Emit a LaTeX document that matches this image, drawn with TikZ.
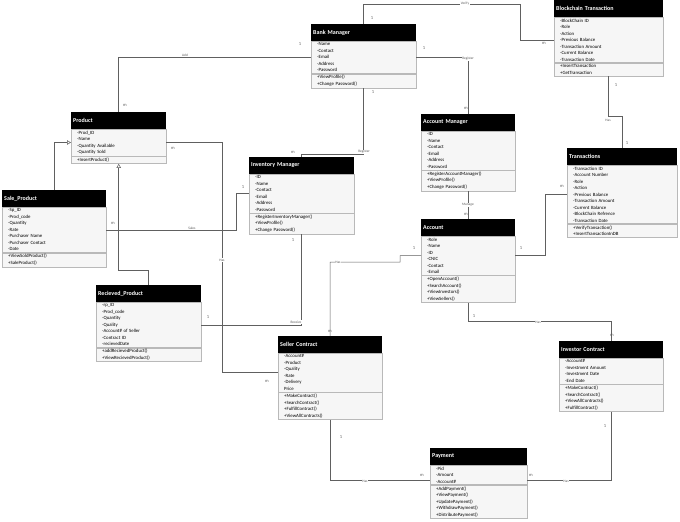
\documentclass[tikz,border=0pt]{standalone}
\usepackage{fontspec}
\setmainfont{Carlito}
\usetikzlibrary{arrows, arrows.meta, positioning}

\tikzset{
  head/.style={fill=black, text=white, font=\fontsize{6}{7}\selectfont\bfseries, anchor=north west, minimum height=16.5pt, inner xsep=2pt, inner ysep=0pt, align=left},
  attr/.style={draw=gray!55, fill=gray!7, anchor=north west, font=\fontsize{4.8}{6.5}\selectfont, inner xsep=6pt, inner ysep=1.6pt, align=left},
  link/.style={draw=gray!75!black, line width=0.5pt},
  mult/.style={font=\fontsize{4.5}{5}\selectfont, text=gray!70!black, inner sep=0pt},
  rel/.style={font=\fontsize{3.5}{4}\selectfont, fill=white, inner sep=0.6pt, text=gray!70!black},
  isa/.style={-{Triangle[open, length=4pt, width=4.5pt]}},
}

\begin{document}
\begin{tikzpicture}[x=1pt, y=-1pt]
\useasboundingbox (0,0) rectangle (680,522);

% classes
\node[head, text width=101pt] (bm) at (311,24) {Bank Manager};
\node[attr, text width=93pt] (bma) at (bm.south west) {-Name\\-Contact\\-Email\\-Address\\-Password};
\node[attr, text width=93pt] (bmm) at (bma.south west) {+ViewProfile()\\+Change Password()};

\node[head, text width=105pt] (bt) at (554,0) {Blockchain Transaction};
\node[attr, text width=97pt] (bta) at (bt.south west) {-BlockChain ID\\-Role\\-Action\\-Previous Balance\\-Transaction Amount\\-Current Balance\\-Transaction Date};
\node[attr, text width=97pt] (btm) at (bta.south west) {+InsertTransaction\\+GetTransaction};

\node[head, text width=91pt] (pr) at (71,112) {Product};
\node[attr, text width=83pt] (pra) at (pr.south west) {-Prod\_ID\\-Name\\-Quantity Available\\-Quantity Sold};
\node[attr, text width=83pt] (prm) at (pra.south west) {+InsertProduct()};

\node[head, text width=100pt] (sp) at (2,190) {Sale\_Product};
\node[attr, text width=92pt] (spa) at (sp.south west) {-Sp\_ID\\-Prod\_code\\-Quantity\\-Rate\\-Purchaser Name\\-Purchaser Contact\\-Date};
\node[attr, text width=92pt] (spm) at (spa.south west) {+ViewSoldProduct()\\+SaleProduct()};

\node[head, text width=101pt] (im) at (249,157) {Inventory Manager};
\node[attr, text width=93pt] (ima) at (im.south west) {-ID\\-Name\\-Contact\\-Email\\-Address\\-Password};
\node[attr, text width=93pt] (imm) at (ima.south west) {+RegisterInventoryManager()\\+ViewProfile()\\+Change Password()};

\node[head, text width=90pt] (am) at (421,114) {Account Manager};
\node[attr, text width=82pt] (ama) at (am.south west) {-ID\\-Name\\-Contact\\-Email\\-Address\\-Password};
\node[attr, text width=82pt] (amm) at (ama.south west) {+RegisterAccountManager()\\+ViewProfile()\\+Change Password()};

\node[head, text width=106pt] (tr) at (567,148) {Transactions};
\node[attr, text width=98pt] (tra) at (tr.south west) {-Transaction ID\\-Account Number\\-Role\\-Action\\-Previous Balance\\-Transaction Amount\\-Current Balance\\-BlockChain Refrence\\-Transaction Date};
\node[attr, text width=98pt] (trm) at (tra.south west) {+VerifyTransaction()\\+InsertTransactionInDB};

\node[head, text width=90pt] (ac) at (421,219) {Account};
\node[attr, text width=82pt] (aca) at (ac.south west) {-Role\\-Name\\-ID\\-CNIC\\-Contact\\-Email};
\node[attr, text width=82pt] (acm) at (aca.south west) {+OpenAccount()\\+SearchAccount()\\+ViewInvestors()\\+ViewSellers()};

\node[head, text width=101pt] (rp) at (96,285) {Recieved\_Product};
\node[attr, text width=93pt] (rpa) at (rp.south west) {-rp\_ID\\-Prod\_code\\-Quantity\\-Quality\\-Account\# of Seller\\-Contract ID\\-recievedDate};
\node[attr, text width=93pt] (rpm) at (rpa.south west) {+addRecievedProduct()\\+ViewRecievedProduct()};

\node[head, text width=100pt] (sc) at (278,336) {Seller Contract};
\node[attr, text width=92pt] (sca) at (sc.south west) {-Account\#\\-Product\\-Quality\\-Rate\\-Delivery\\Price};
\node[attr, text width=92pt] (scm) at (sca.south west) {+MakeContract()\\+SearchContract()\\+FulfillContract()\\+ViewAllContracts()};

\node[head, text width=100pt] (ic) at (559,341) {Investor Contract};
\node[attr, text width=92pt] (ica) at (ic.south west) {-Account\#\\-Investment Amount\\-Investment Date\\-End Date};
\node[attr, text width=92pt] (icm) at (ica.south west) {+MakeContract()\\+SearchContract()\\+ViewAllContracts()\\+FulfillContract()};

\node[head, text width=93pt] (pa) at (430,448) {Payment};
\node[attr, text width=85pt] (paa) at (pa.south west) {-Pid\\-Amount\\-Account\#};
\node[attr, text width=85pt] (pam) at (paa.south west) {+AddPayment()\\+ViewPayment()\\+UpdatePayment()\\+WithdrawPayment()\\+DistributePayment()};

% connectors
\draw[link] (bm.north) |- (520,4) |- (bta.west);
\draw[link] (bma.west) -| (pr.north);
\draw[link] (bmm.south) -- ++(0,66) -| (im.north);
\draw[link] (bma.east) -| (am.north);
\draw[link] (btm.south) -- ++(0,40) -| (tr.north);
\draw[link, isa] (sp.north) |- (pra.west);
\draw[link, isa] (rp.north) -- ++(0,-15) -| (prm.south);
\draw[link] (pra.east) -- ++(56,0) |- (sca.west);
\draw[link] (spa.east) -- ++(130,0) |- (ima.west);
\draw[link] (imm.south) |- (rpa.east);
\draw[link] (aca.west) -- ++(-21,0) |- (330,262) -- (sc.north);
\draw[link] (aca.east) -- ++(30,0) |- (tra.west);
\draw[link] (amm.south) -- (ac.north);
\draw[link] (acm.south) -- ++(0,19) -| (ic.north);
\draw[link] (scm.south) |- ([yshift=5pt]paa.south west);
\draw[link] (icm.south) |- ([yshift=5pt]paa.south east);

% relation names
\node[rel] (lverify) at (465,4) {Verify};
\node[rel] (ladd) at (185,55) {Add};
\node[rel] (lreg1) at (364,152) {Register};
\node[rel] (lreg2) at (468,59) {Register};
\node[rel] (lhas1) at (608,120) {Has};
\node[rel] (lsales) at (192,228) {Sales};
\node[rel] (lrecv) at (296,322) {Receive};
\node[rel] (lhas2) at (222,260) {Has};
\node[rel] (lhas3) at (338,262) {Has};
\node[rel] (lmanage) at (468,205) {Manage};
\node[rel] (lhas4) at (538,322) {Has};
\node[rel] (lhas5) at (365,481) {Has};
\node[rel] (lhas6) at (566,481) {Has};

% multiplicities
\node[mult] (n1) at (372,18) {1};
\node[mult] (n2) at (544,43) {m};
\node[mult] (n3) at (300,44) {1};
\node[mult] (n4) at (125,105) {m};
\node[mult] (n5) at (373,92) {1};
\node[mult] (n6) at (293,152) {m};
\node[mult] (n7) at (424,48) {1};
\node[mult] (n8) at (466,108) {m};
\node[mult] (n9) at (616,85) {1};
\node[mult] (n10) at (627,143) {1};
\node[mult] (n11) at (173,148) {m};
\node[mult] (n12) at (267,381) {m};
\node[mult] (n13) at (113,223) {m};
\node[mult] (n14) at (243,187) {1};
\node[mult] (n15) at (293,240) {1};
\node[mult] (n16) at (208,317) {1};
\node[mult] (n17) at (414,248) {1};
\node[mult] (n18) at (330,331) {m};
\node[mult] (n19) at (521,248) {1};
\node[mult] (n20) at (562,186) {m};
\node[mult] (n21) at (466,214) {m};
\node[mult] (n22) at (474,316) {1};
\node[mult] (n23) at (612,335) {m};
\node[mult] (n24) at (341,437) {1};
\node[mult] (n25) at (422,475) {m};
\node[mult] (n26) at (605,426) {1};
\node[mult] (n27) at (531,475) {m};
\end{tikzpicture}
\end{document}
